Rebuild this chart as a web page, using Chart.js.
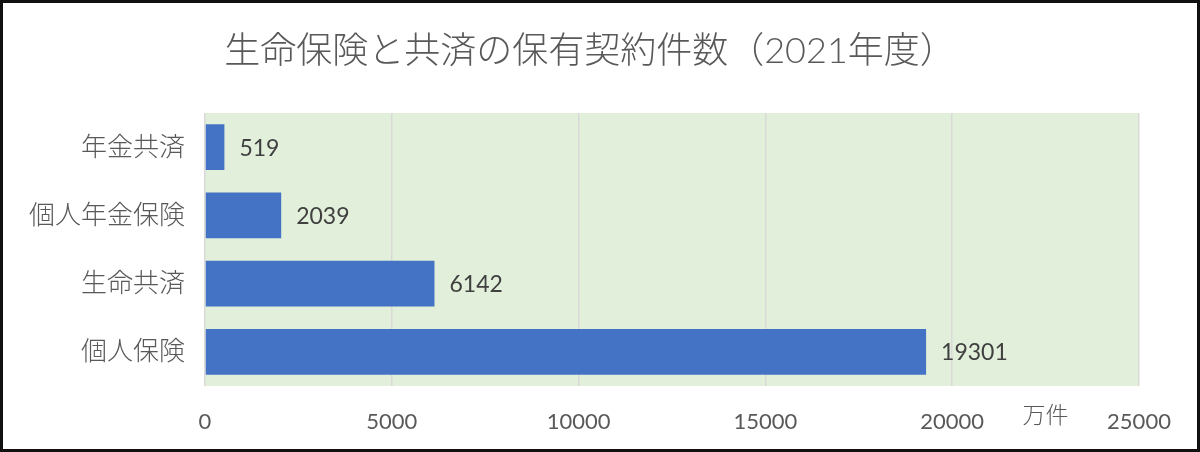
<!DOCTYPE html>
<html lang="ja">
<head>
<meta charset="utf-8">
<title>生命保険と共済の保有契約件数（2021年度）</title>
<script src="https://cdn.jsdelivr.net/npm/chart.js@4.4.1/dist/chart.umd.min.js"></script>
<style>
  html, body { margin: 0; padding: 0; background: #fff; }
  #frame {
    position: absolute; left: 0; top: 0;
    width: 1200px; height: 452px;
    box-sizing: border-box;
    border: 3px solid #111;
    background: #fff;
  }
  #chart { display: block; }
</style>
</head>
<body>
<div id="frame">
  <canvas id="chart" width="1194" height="446"></canvas>
</div>
<script>
/* ===============================
   DATA
================================= */
const categories = ['年金共済', '個人年金保険', '生命共済', '個人保険'];
const contracts = [519, 2039, 6142, 19301];   // 万件
const xTicks = [0, 5000, 10000, 15000, 20000, 25000];
const unitLabel = '万件';
const chartTitle = '生命保険と共済の保有契約件数（2021年度）';

const FONT = "Lato, 'Noto Sans CJK JP', sans-serif";

/* ===============================
   PLUGINS
================================= */
// light green plot background
const plotBackground = {
    id: 'plotBackground',
    beforeDraw(chart) {
        const { ctx, chartArea: a } = chart;
        ctx.save();
        ctx.fillStyle = '#E2EFDA';
        ctx.fillRect(a.left, a.top, a.right - a.left, a.bottom - a.top);
        ctx.restore();
    }
};

// value labels right of each bar
const barValues = {
    id: 'barValues',
    afterDatasetsDraw(chart) {
        const { ctx } = chart;
        const meta = chart.getDatasetMeta(0);
        ctx.save();
        ctx.font = '23px ' + FONT;
        ctx.fillStyle = '#404040';
        ctx.textAlign = 'left';
        ctx.textBaseline = 'middle';
        meta.data.forEach((bar, i) => {
            ctx.fillText(String(contracts[i]), bar.x + 15, bar.y + 1);
        });
        ctx.restore();
    }
};

// title (slightly left of the canvas centre, as in the source) + unit "万件"
const texts = {
    id: 'texts',
    afterDraw(chart) {
        const { ctx, scales } = chart;
        ctx.save();
        ctx.fillStyle = '#595959';
        ctx.textAlign = 'center';
        ctx.textBaseline = 'middle';

        ctx.font = '300 36px ' + FONT;
        ctx.fillText(chartTitle, chart.width / 2 - 10, 48);

        ctx.font = '300 23px ' + FONT;
        ctx.fillText(unitLabel, scales.x.getPixelForValue(22500), scales.x.top + 30);
        ctx.restore();
    }
};

/* ===============================
   CHART
================================= */
new Chart(document.getElementById('chart'), {
    type: 'bar',
    data: {
        labels: categories,
        datasets: [{
            data: contracts,
            backgroundColor: '#4472C4',
            borderWidth: 0,
            barPercentage: 0.67,
            categoryPercentage: 1
        }]
    },
    options: {
        indexAxis: 'y',
        responsive: false,
        animation: false,
        layout: { padding: { top: 110, right: 58, bottom: 0, left: 0 } },
        plugins: {
            legend: { display: false },
            tooltip: { enabled: false },
            title: { display: false }
        },
        scales: {
            x: {
                min: 0,
                max: 25000,
                afterBuildTicks: s => { s.ticks = xTicks.map(v => ({ value: v })); },
                afterFit: s => { s.height = 63; },
                grid: { color: '#D9D9D9', lineWidth: 1.5, drawTicks: false },
                border: { display: false },
                ticks: {
                    color: '#595959',
                    padding: 23,
                    maxRotation: 0,
                    font: { family: FONT, size: 22 },
                    callback: v => String(v)
                }
            },
            y: {
                afterFit: s => { s.width = 202; },
                grid: { display: false, drawTicks: false },
                border: { display: false },
                ticks: {
                    color: '#595959',
                    padding: 20,
                    font: { family: FONT, size: 26, weight: '300' }
                }
            }
        }
    },
    plugins: [plotBackground, barValues, texts]
});
</script>
</body>
</html>
